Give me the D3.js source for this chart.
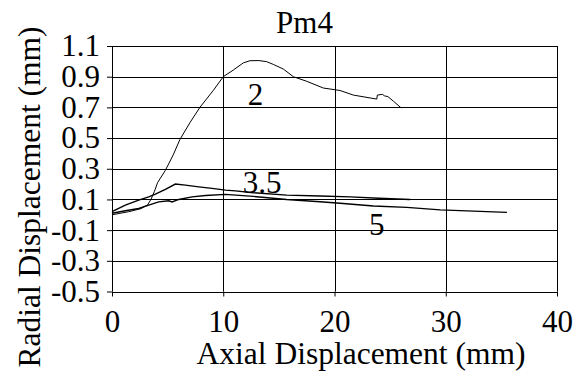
<!DOCTYPE html>
<html>
<head>
<meta charset="utf-8">
<script src="https://cdn.jsdelivr.net/npm/d3@7"></script>
<style>
  body { margin: 0; background: #fff; }
</style>
</head>
<body>
<div id="chart"></div>
<script>
var svgWidth = 582;
var svgHeight = 374;
var serif = "Liberation Serif";
var fontSize = "31px";

var margin = { top: 46, right: 25, bottom: 82.5, left: 112 };
var width = svgWidth - margin.left - margin.right;
var height = svgHeight - margin.top - margin.bottom;

// curve data (axial mm, radial mm)
var curve2X = [0, 1.5, 2.6, 3.2, 3.5, 3.8, 4.1, 4.8, 5.5, 6.1, 7.0, 7.9, 9.1, 10.0, 10.9, 11.8, 12.4, 13.2, 13.9, 14.5, 15.4, 16.3, 17.5, 19.0, 20.5, 21.7, 23.8, 23.85, 24.3, 24.5, 24.8, 25.3, 26.0];
var curve2Y = [0.0, 0.02, 0.04, 0.065, 0.1, 0.15, 0.21, 0.29, 0.39, 0.49, 0.6, 0.70, 0.81, 0.9, 0.943, 0.99, 1.004, 1.005, 0.998, 0.98, 0.95, 0.9, 0.87, 0.826, 0.81, 0.78, 0.754, 0.78, 0.785, 0.775, 0.77, 0.74, 0.696];

var curve35X = [0, 1.2, 2.4, 3.3, 3.9, 4.8, 5.7, 6.6, 7.8, 9.0, 10.2, 11.1, 12.7, 15.7, 18.7, 21.4, 24.0, 26.8];
var curve35Y = [0.02, 0.063, 0.095, 0.117, 0.135, 0.165, 0.2, 0.193, 0.182, 0.172, 0.161, 0.156, 0.144, 0.128, 0.122, 0.117, 0.108, 0.1];

var curve5X = [0, 1.2, 2.4, 3.3, 4.2, 5.1, 5.4, 6.0, 7.2, 8.4, 10.2, 12.7, 15.7, 18.7, 20.5, 23.5, 26.5, 29.5, 32.5, 35.5];
var curve5Y = [0.01, 0.026, 0.041, 0.063, 0.084, 0.091, 0.084, 0.1, 0.117, 0.126, 0.133, 0.12, 0.1, 0.085, 0.075, 0.057, 0.048, 0.032, 0.024, 0.016];

var xTicks = [0, 10, 20, 30, 40];
var yTicks = [-0.5, -0.3, -0.1, 0.1, 0.3, 0.5, 0.7, 0.9, 1.1];

var curveLabels = ["2", "3.5", "5"];
var labelX = [12.9, 13.5, 23.8];
var labelY = [0.715, 0.141, -0.133];

var svg = d3.select("#chart")
  .append("svg")
  .attr("width", svgWidth)
  .attr("height", svgHeight);

var chartGroup = svg.append("g")
  .attr("transform", `translate(${margin.left}, ${margin.top})`);

var xScale = d3.scaleLinear().domain([0, 40]).range([0, width]);
var yScale = d3.scaleLinear().domain([-0.5, 1.1]).range([height, 0]);

// gridlines
chartGroup.append("g")
  .selectAll("line")
  .data(yTicks)
  .enter()
  .append("line")
  .attr("x1", 0).attr("x2", width)
  .attr("y1", d => Math.round(yScale(d)) + 0.5)
  .attr("y2", d => Math.round(yScale(d)) + 0.5)
  .attr("stroke", "#000");

chartGroup.append("g")
  .selectAll("line")
  .data(xTicks)
  .enter()
  .append("line")
  .attr("y1", 0).attr("y2", height)
  .attr("x1", d => Math.round(xScale(d)) + 0.5)
  .attr("x2", d => Math.round(xScale(d)) + 0.5)
  .attr("stroke", "#000");

// axes
var fmt = d => d3.format(".1f")(d).replace("−", "-");

var bottomAxis = d3.axisBottom(xScale).tickValues(xTicks).tickSize(5).tickPadding(13).tickSizeOuter(0);
var leftAxis = d3.axisLeft(yScale).tickValues(yTicks).tickSize(5).tickPadding(7).tickSizeOuter(0).tickFormat(fmt);

var xAxisG = chartGroup.append("g")
  .attr("transform", `translate(0, ${height})`)
  .call(bottomAxis);

var yAxisG = chartGroup.append("g")
  .call(leftAxis);

[xAxisG, yAxisG].forEach(function(g) {
  g.select(".domain").remove();
  g.selectAll("line").attr("stroke", "#000");
  g.selectAll("text")
    .style("font-family", serif)
    .style("font-size", fontSize)
    .attr("fill", "#000");
});

// curves
var line = d3.line()
  .x(d => xScale(d[0]))
  .y(d => yScale(d[1]));

var curves = [
  { xs: curve2X, ys: curve2Y, w: 1 },
  { xs: curve35X, ys: curve35Y, w: 1.4 },
  { xs: curve5X, ys: curve5Y, w: 1.4 }
];

chartGroup.selectAll("path.curve")
  .data(curves)
  .enter()
  .append("path")
  .attr("class", "curve")
  .attr("d", c => line(c.xs.map((x, i) => [x, c.ys[i]])))
  .attr("fill", "none")
  .attr("stroke", "#000")
  .attr("stroke-width", c => c.w);

// curve labels
chartGroup.selectAll("text.lbl")
  .data(curveLabels)
  .enter()
  .append("text")
  .attr("class", "lbl")
  .attr("x", (d, i) => xScale(labelX[i]))
  .attr("y", (d, i) => yScale(labelY[i]))
  .attr("text-anchor", "middle")
  .style("font-family", serif)
  .style("font-size", fontSize)
  .text(d => d);

// titles
svg.append("text")
  .attr("x", 304.5)
  .attr("y", 33)
  .attr("text-anchor", "middle")
  .style("font-family", serif)
  .style("font-size", fontSize)
  .text("Pm4");

svg.append("text")
  .attr("x", 361)
  .attr("y", 364)
  .attr("text-anchor", "middle")
  .style("font-family", serif)
  .style("font-size", "31.5px")
  .text("Axial Displacement (mm)");

svg.append("text")
  .attr("transform", "translate(40, 197) rotate(-90)")
  .attr("text-anchor", "middle")
  .style("font-family", serif)
  .style("font-size", "31.5px")
  .text("Radial Displacement (mm)");
</script>
</body>
</html>
